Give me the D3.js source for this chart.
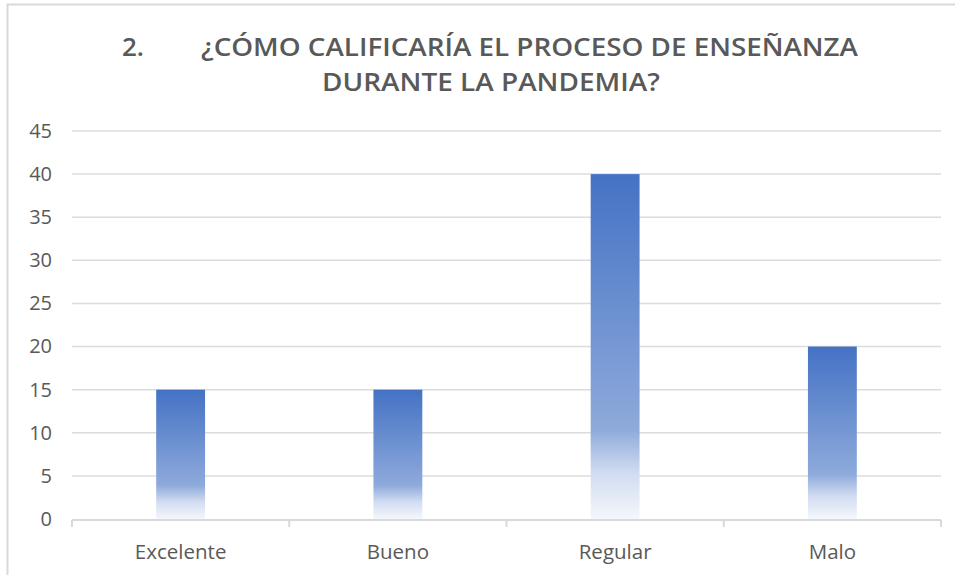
<!DOCTYPE html>
<html>
<head>
<meta charset="utf-8">
<script src="https://cdn.jsdelivr.net/npm/d3@7"></script>
<style>
  html, body { margin: 0; padding: 0; background: #fff; }
  svg { display: block; }
</style>
</head>
<body>
<svg id="chart" width="955" height="575"></svg>
<script>
const categories = ["Excelente", "Bueno", "Regular", "Malo"];
const values = [15, 15, 40, 20];
const yTicks = [0, 5, 10, 15, 20, 25, 30, 35, 40, 45];
const titleNumber = "2.";
const titleLines = ["¿CÓMO CALIFICARÍA EL PROCESO DE ENSEÑANZA", "DURANTE LA PANDEMIA?"];

const svg = d3.select("#chart");
const W = 955, H = 575;
const margin = { left: 72, right: 14, top: 131, bottom: 56 };
const plotW = W - margin.left - margin.right;
const plotH = H - margin.top - margin.bottom;
const font = "'Open Sans', 'Liberation Sans', sans-serif";

// chart border
svg.append("rect")
  .attr("x", 7.5).attr("y", 4.5)
  .attr("width", 960).attr("height", 600)
  .attr("fill", "#fff").attr("stroke", "#d9d9d9").attr("stroke-width", 2);

const defs = svg.append("defs");
const grad = defs.append("linearGradient")
  .attr("id", "barGrad").attr("x1", 0).attr("y1", 0).attr("x2", 0).attr("y2", 1);
grad.append("stop").attr("offset", "0%").attr("stop-color", "#4472c4");
grad.append("stop").attr("offset", "74%").attr("stop-color", "#8eaadb");
grad.append("stop").attr("offset", "87%").attr("stop-color", "#d2ddf1");
grad.append("stop").attr("offset", "100%").attr("stop-color", "#f4f7fc");

const g = svg.append("g").attr("transform", `translate(${margin.left},${margin.top})`);

const x = d3.scaleBand().domain(categories).range([0, plotW]).padding(0);
const y = d3.scaleLinear().domain([0, 45]).range([plotH, 0]);

// gridlines
g.append("g")
  .selectAll("line")
  .data(yTicks.filter(d => d > 0))
  .join("line")
  .attr("x1", 0).attr("x2", plotW)
  .attr("y1", d => y(d)).attr("y2", d => y(d))
  .attr("stroke", "#dcdcdc").attr("stroke-width", 1.5);

// y axis labels
const yAxis = d3.axisLeft(y).tickValues(yTicks).tickSize(0).tickPadding(20);
g.append("g").call(yAxis)
  .call(s => s.select(".domain").remove())
  .call(s => s.selectAll("text")
    .attr("font-family", font)
    .attr("font-size", 20).attr("fill", "#595959"));

// bars
const barW = x.bandwidth() * 0.225;
g.append("g")
  .selectAll("rect")
  .data(categories.map((c, i) => ({ c, v: values[i] })))
  .join("rect")
  .attr("x", d => x(d.c) + x.bandwidth() / 2 - barW / 2)
  .attr("y", d => y(d.v))
  .attr("width", barW)
  .attr("height", d => y(0) - y(d.v))
  .attr("fill", "url(#barGrad)");

// x axis
const xAxisG = g.append("g").attr("transform", `translate(0,${plotH + 1})`);
xAxisG.append("line")
  .attr("x1", 0).attr("x2", plotW).attr("y1", 0).attr("y2", 0)
  .attr("stroke", "#d9d9d9").attr("stroke-width", 2);
const boundaries = categories.map(c => x(c)).concat([plotW]);
xAxisG.selectAll("line.tk").data(boundaries).join("line")
  .attr("class", "tk")
  .attr("x1", d => d).attr("x2", d => d).attr("y1", 0).attr("y2", 7)
  .attr("stroke", "#d9d9d9").attr("stroke-width", 2);
const xAxis = d3.axisBottom(x).tickSize(0).tickPadding(24);
xAxisG.call(xAxis)
  .call(s => s.select(".domain").remove())
  .call(s => s.selectAll("text")
    .attr("font-family", font)
    .attr("font-size", 20.5).attr("fill", "#595959"));

// title
const title = svg.append("g")
  .attr("font-family", font)
  .attr("font-weight", 600)
  .attr("font-size", 26)
  .attr("fill", "#595959");
title.append("text").attr("x", 122).attr("y", 56).text(titleNumber);
const tl = [
  { t: titleLines[0], y: 56, x0: 201, x1: 858 },
  { t: titleLines[1], y: 91, x0: 322, x1: 660 }
];
title.selectAll("text.tl").data(tl).join("text")
  .attr("class", "tl")
  .attr("x", d => d.x0)
  .attr("y", d => d.y)
  .attr("textLength", d => d.x1 - d.x0)
  .attr("lengthAdjust", "spacingAndGlyphs")
  .text(d => d.t);
</script>
</body>
</html>
